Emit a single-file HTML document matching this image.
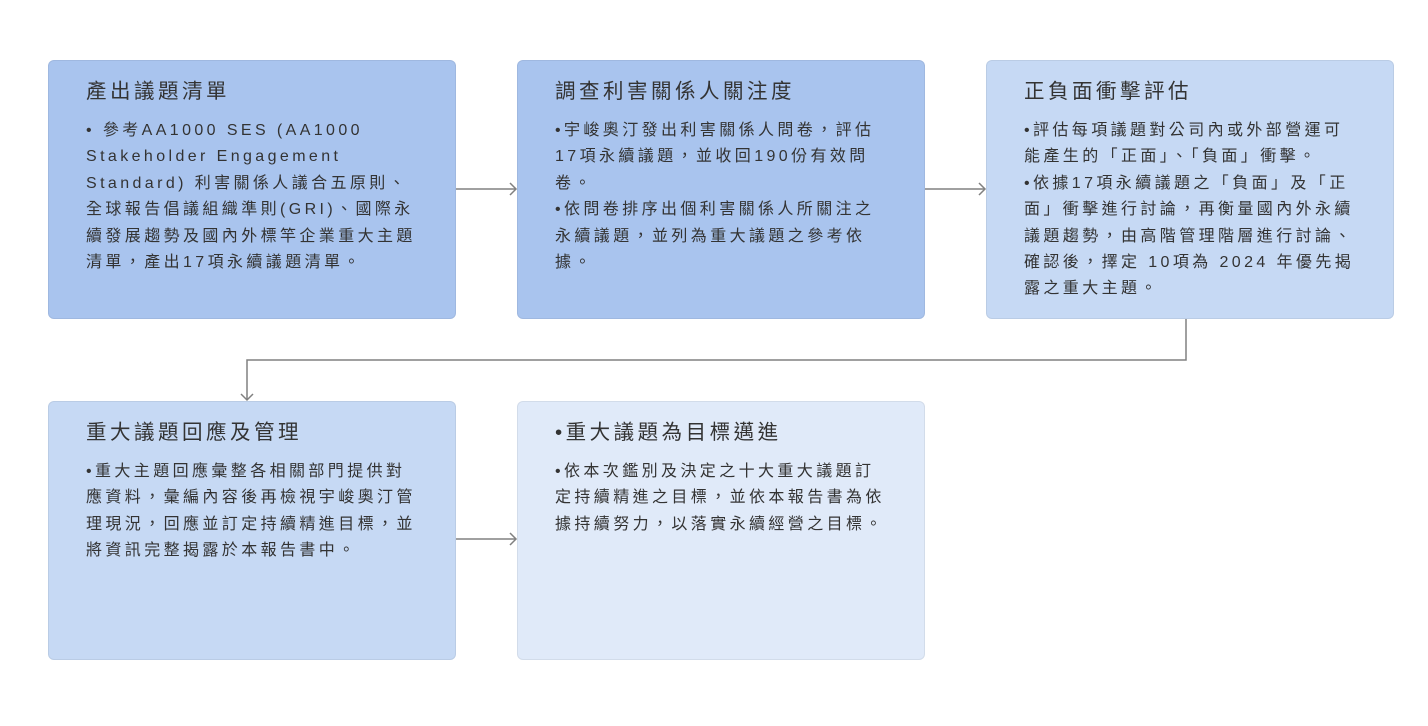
<!DOCTYPE html>
<html><head><meta charset="utf-8"><style>
body{margin:0;width:1428px;height:726px;background:#fff;position:relative;overflow:hidden;font-family:"Liberation Sans","Noto Sans CJK TC",sans-serif;color:#333;}
.b{position:absolute;width:408px;height:259px;border:1px solid rgba(0,0,0,0.06);border-radius:6px;box-sizing:border-box;padding:17px 0 0 37px;white-space:nowrap;}
.t{font-size:20.5px;letter-spacing:3.5px;line-height:28px;margin-bottom:12px;color:#333;}
.p{font-size:16px;letter-spacing:3.4px;line-height:26.4px;color:#333;}
svg{position:absolute;left:0;top:0}
</style></head><body>
<svg width="1428" height="726">
<g stroke="#808080" stroke-width="1.5" fill="none">
<line x1="456" y1="189" x2="516" y2="189"/><polyline points="510,183 516,189 510,195"/>
<line x1="925" y1="189" x2="985" y2="189"/><polyline points="979,183 985,189 979,195"/>
<polyline points="1186,319 1186,360 247,360 247,400"/><polyline points="241,394 247,400 253,394"/>
<line x1="456" y1="539" x2="516" y2="539"/><polyline points="510,533 516,539 510,545"/>
</g></svg>
<div class="b" style="left:48px;top:60px;background:#a9c4ee"><div class="t">產出議題清單</div><div class="p">• 參考AA1000 SES (AA1000<br>Stakeholder Engagement<br>Standard) 利害關係人議合五原則、<br>全球報告倡議組織準則(GRI)、國際永<br>續發展趨勢及國內外標竿企業重大主題<br>清單，產出17項永續議題清單。</div></div>
<div class="b" style="left:517px;top:60px;background:#a9c4ee"><div class="t">調查利害關係人關注度</div><div class="p">•宇峻奧汀發出利害關係人問卷，評估<br>17項永續議題，並收回190份有效問<br>卷。<br>•依問卷排序出個利害關係人所關注之<br>永續議題，並列為重大議題之參考依<br>據。</div></div>
<div class="b" style="left:986px;top:60px;background:#c6d9f4"><div class="t">正負面衝擊評估</div><div class="p">•評估每項議題對公司內或外部營運可<br>能產生的「正面」、「負面」衝擊。<br>•依據17項永續議題之「負面」及「正<br>面」衝擊進行討論，再衡量國內外永續<br>議題趨勢，由高階管理階層進行討論、<br>確認後，擇定 10項為 2024 年優先揭<br>露之重大主題。</div></div>
<div class="b" style="left:48px;top:401px;background:#c6d9f4"><div class="t">重大議題回應及管理</div><div class="p">•重大主題回應彙整各相關部門提供對<br>應資料，彙編內容後再檢視宇峻奧汀管<br>理現況，回應並訂定持續精進目標，並<br>將資訊完整揭露於本報告書中。</div></div>
<div class="b" style="left:517px;top:401px;background:#e0eaf9"><div class="t">•重大議題為目標邁進</div><div class="p">•依本次鑑別及決定之十大重大議題訂<br>定持續精進之目標，並依本報告書為依<br>據持續努力，以落實永續經營之目標。</div></div>
</body></html>
